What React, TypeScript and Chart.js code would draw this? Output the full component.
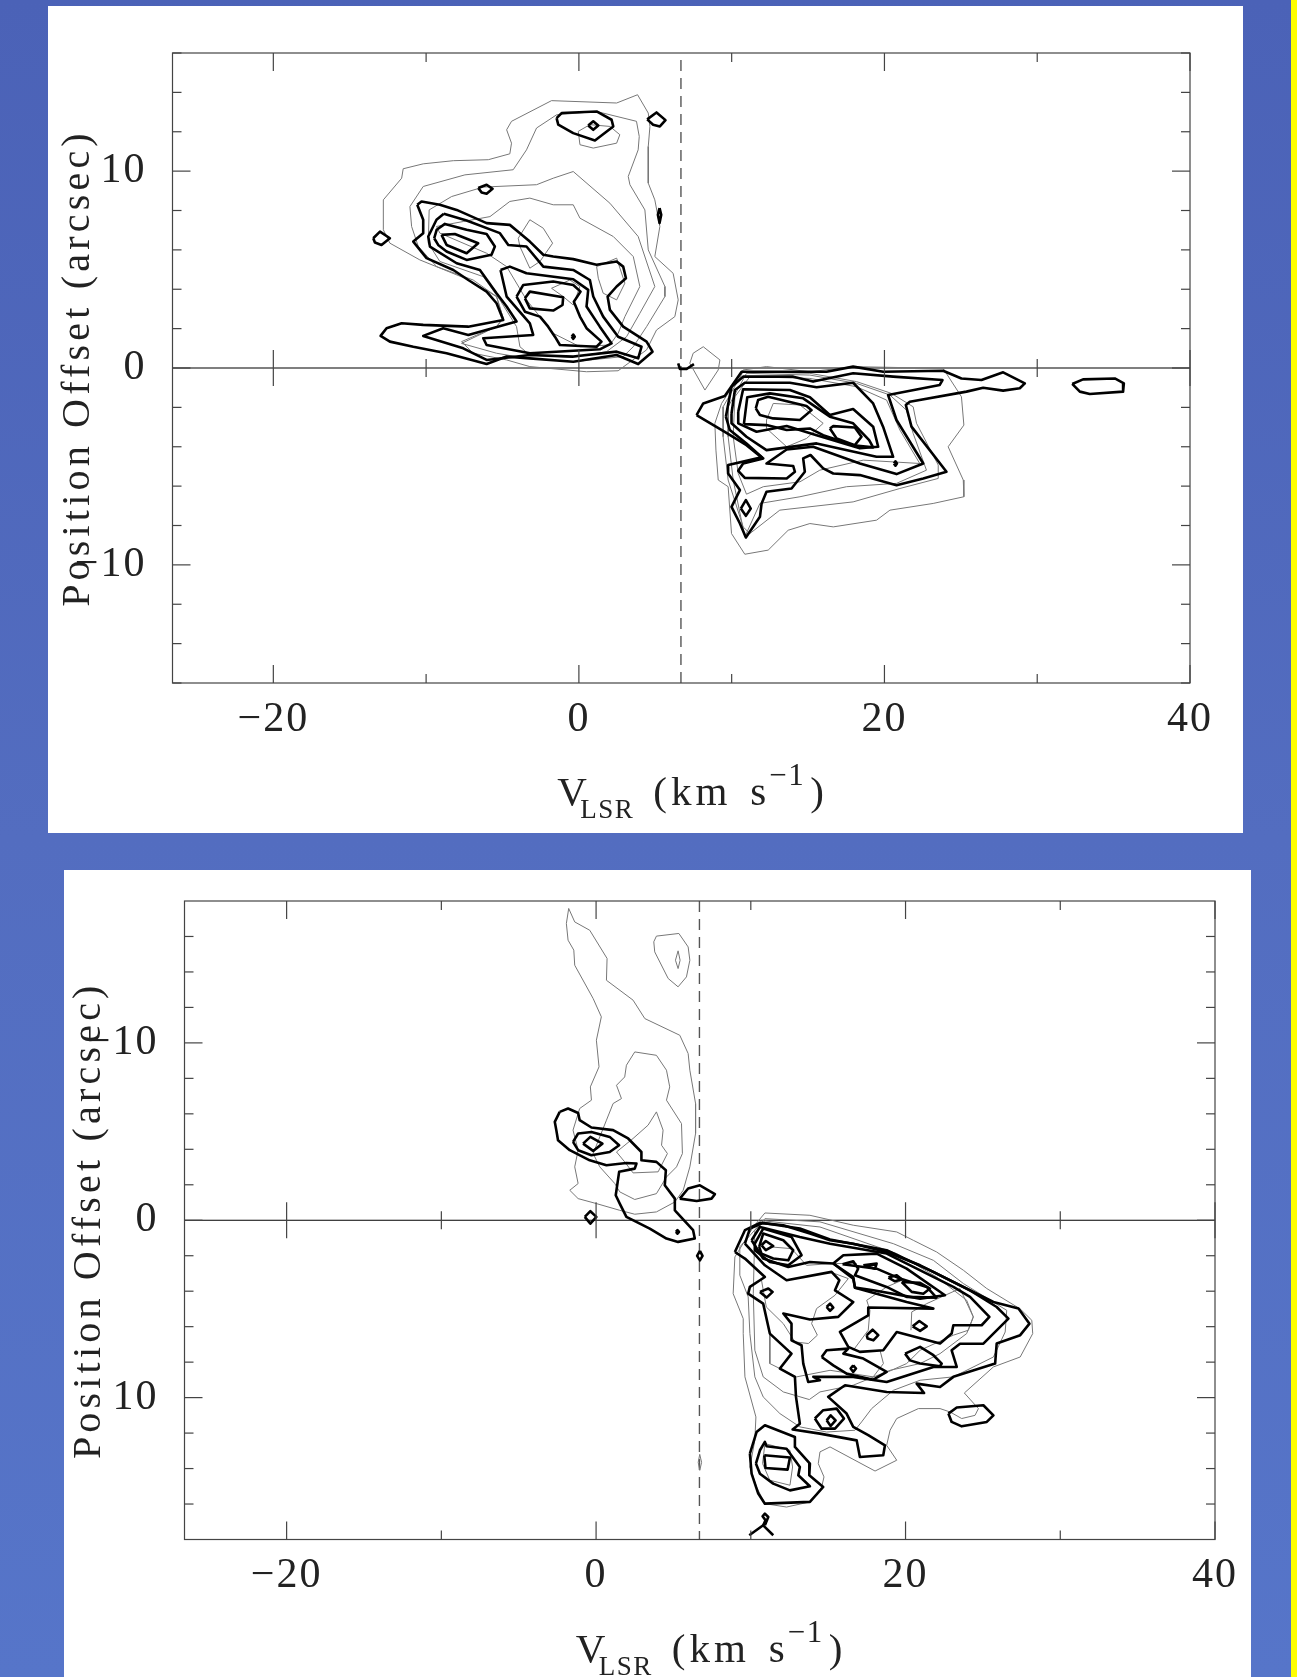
import React, { useEffect, useRef } from "react";
import { Chart, registerables } from "chart.js";

Chart.register(...registerables);

// ---------- axis values ----------
const xRange = [-26.6, 40];
const xMajorTicks = [-20, 0, 20, 40];
const xMinorTicks = [-10, 10, 30];
const yMajorTicks = [-10, 0, 10];
const yMinorTicks = [-16, -14, -12, -8, -6, -4, -2, 2, 4, 6, 8, 12, 14, 16];
const yRangeTop = [-16, 16];
const yRangeBottom = [-18, 18];
const systemicVelocityTop = 6.68;
const systemicVelocityBottom = 6.68;
const yAxisTitle = "Position Offset (arcsec)";
const xTitleV = "V";
const xTitleSub = "LSR";
const xTitleUnit = "(km";
const xTitleS = "s";
const xTitleSup = "\u22121";
const xTitleClose = ")";

// ---------- top panel: [velocity, offset, velocity, offset, ...] ----------
const topThin: number[][] = [
  [-12.8,7.02,-12.8,8.54,-11.6,9.64,-11.5,10.12,-10.19,10.37,-8.22,10.53,-5.93,10.58,-4.52,10.88,-4.41,11.42,-4.73,12.1,-4.41,12.53,-1.79,13.58,2.47,13.46,3.84,13.88,4.54,12.95,4.65,12.27,4.54,11.25,4.54,9.39,4.97,8.54,5.3,7.19,4.97,5.66,6.17,4.81,6.5,3.46,6.28,2.61,5.08,1.93,4.43,0.92,2.57,-0.14,0.5,-0.19,-3.21,0.07,-4.73,0.41,-6.92,0.75,-7.68,1.34,-5.39,2.1,-4.95,2.53,-5.39,3.63,-7.46,4.56,-10.41,5.49,-12.37,6.34],
  [-10.95,7.19,-11.06,8.2,-10.19,9.22,-7.46,9.81,-4.3,10.07,-3.43,11.08,-2.77,12.19,-1.46,12.86,1.16,13.03,3.77,12.53,3.95,11.76,3.88,11.08,3.23,9.73,3.34,9.31,4.32,8.03,4.54,6.0,5.63,4.14,5.63,3.63,4.43,2.1,3.56,1.08,2.9,0.58,-0.37,0.32,-3.43,0.49,-5.39,0.75,-7.68,1.25,-5.39,2.1,-4.95,2.53,-5.39,3.63,-6.92,4.47,-9.31,5.15,-10.51,6.17],
  [-9.8,8.03,-8.33,8.71,-6.26,9.19,-2.77,9.31,-1.68,9.64,-0.37,9.98,2.03,8.37,3.88,6.68,4.97,4.14,3.99,2.78,3.12,1.59,1.81,0.83,-0.37,0.54,-3.21,0.66,-3.86,1.08,-4.08,2.1,-5.17,3.46,-6.26,4.64,-9.1,5.41,-9.86,6.34],
  [-5.82,7.69,-4.52,8.46,-3.21,8.63,-1.68,8.29,-0.37,8.29,0.07,7.61,2.25,6.68,3.56,5.66,3.99,4.14,3.01,2.61,2.57,1.76,2.03,1.17,0.07,1.08,-1.68,1.76,-3.43,3.46,-4.73,5.15,-6.04,5.83,-9.1,6.85,-9.32,7.19,-7.57,7.44],
  [-3.21,7.53,-2.33,7.1,-1.72,6.34,-2.55,5.41,-3.21,5.07,-3.86,6.17,-3.97,6.59],
  [1.16,5.15,2.47,5.58,3.01,4.31,2.47,3.46,1.59,3.8,1.27,4.56],
  [-0.04,12.02,0.72,12.36,2.03,12.27,2.68,11.85,2.47,11.42,0.94,11.17,0.07,11.34],
  [-1.79,4.05,-0.59,4.47,0.07,4.14,-0.37,3.2,-1.03,3.63],
  [8.14,1.08,9.23,0.41,9.12,-0.1,8.25,-1.12,7.26,0.24,7.48,0.75],
  [10.86,-9.46,9.99,-8.41,9.77,-6.03,9.12,-5.69,8.97,-4.17,8.9,-2.81,9.34,-1.8,10.75,-0.1,12.28,0.07,15.12,-0.19,17.95,0.07,23.84,-0.02,25.04,-1.46,25.2,-2.9,24.17,-4.0,25.16,-5.69,25.2,-6.54,23.19,-6.88,20.36,-7.22,19.48,-7.73,16.65,-8.07,15.12,-7.9,13.7,-8.24,12.39,-9.25],
  [11.19,-8.41,13.15,-7.22,17.95,-6.8,21.01,-6.12,23.52,-5.61,23.52,-4.93,22.1,-2.81,21.88,-1.97,20.46,-1.29,18.17,-0.69,15.12,-0.27,10.75,-0.19,9.44,-1.97,9.44,-3.49,9.77,-5.69,10.75,-8.07],
  [10.86,-8.58,11.85,-6.88,14.47,-6.54,17.52,-6.03,20.79,-5.86,22.75,-5.19,21.88,-3.32,21.44,-2.14,20.35,-1.37,18.17,-0.78,15.12,-0.36,10.97,-0.27,9.77,-1.97,9.77,-3.49,10.1,-5.69],
  [10.97,-6.41,12.07,-6.03,14.47,-5.78,15.77,-5.19,18.61,-4.68,22.31,-4.85,21.01,-3.15,20.14,-1.63,18.17,-0.95,15.12,-0.53,11.19,-0.44,10.21,-1.46,10.1,-3.49,10.43,-5.36],
  [12.28,-2.64,12.72,-1.8,14.47,-1.88,15.99,-2.81,14.9,-3.58,13.6,-4.0,12.28,-3.07],
];
const topThick: number[][] = [
  [-10.58,8.29,-10.3,8.46,-9.1,8.29,-8.0,8.03,-6.04,7.36,-4.52,7.27,-3.86,6.85,-3.21,6.42,-2.33,5.75,-1.68,5.66,-0.37,5.53,1.16,5.24,2.47,5.41,2.9,5.15,3.08,4.56,2.47,4.14,1.88,3.63,2.03,2.95,2.9,2.1,4.43,1.34,4.82,0.83,3.88,0.2,2.47,0.66,-0.37,0.32,-3.21,0.49,-4.73,0.58,-6.04,0.2,-8.66,0.75,-10.84,1.08,-12.37,1.34,-12.98,1.63,-12.59,2.02,-11.6,2.27,-10.19,2.19,-7.24,2.1,-4.95,2.44,-5.39,3.29,-6.04,3.88,-7.24,4.47,-8.22,4.98,-9.97,5.58,-10.84,6.42,-10.19,6.85,-10.19,7.53],
  [-8.84,7.83,-7.35,7.49,-5.17,6.85,-4.62,6.25,-3.43,6.17,-2.33,5.15,-0.37,4.98,0.72,4.47,0.94,3.63,1.59,2.61,2.57,1.59,4.1,1.08,3.88,0.49,2.47,0.83,-0.37,0.58,-3.21,0.66,-6.04,0.41,-7.57,1.0,-10.19,1.63,-8.88,2.02,-7.24,1.68,-4.08,2.36,-4.73,3.12,-5.39,3.8,-6.48,4.98,-8.0,5.32,-9.75,6.17,-9.86,6.68,-9.32,7.53],
  [-5.13,4.98,-4.52,5.15,-3.43,4.81,-0.37,4.51,0.61,3.97,0.5,3.12,1.37,2.1,2.14,1.25,1.37,0.95,-3.21,0.75,-6.04,1.17,-6.26,1.51,-2.99,1.68,-3.21,2.27,-4.73,3.63],
  [-9.47,6.59,-9.31,7.02,-8.77,7.32,-7.35,7.02,-6.04,6.81,-5.5,6.17,-5.72,5.75,-7.35,5.49,-8.66,5.92,-9.21,6.25],
  [-8.99,6.76,-8.12,6.81,-6.59,6.34,-7.35,5.83,-8.66,6.25],
  [-4.08,3.63,-3.64,4.22,-1.68,4.39,-0.37,4.22,0.11,3.88,-0.33,3.37,0.07,2.61,0.5,2.02,1.48,1.34,1.16,1.08,-1.24,1.17,-1.57,1.59,-2.01,2.1,-2.55,2.61,-3.53,2.86],
  [-3.53,3.54,-3.21,3.88,-1.03,3.59,-1.07,3.2,-1.68,2.92,-3.21,3.03],
  [-0.47,1.59,-0.37,1.7,-0.27,1.59,-0.37,1.48],
  [-1.46,12.69,-1.13,12.95,1.16,13.03,2.14,12.61,2.25,12.27,1.05,11.56,-0.37,11.93,-1.35,12.36],
  [0.61,12.32,0.94,12.53,1.27,12.32,0.94,12.1],
  [4.47,12.63,5.08,12.98,5.67,12.59,5.3,12.27,4.86,12.36],
  [-6.59,9.14,-6.04,9.31,-5.65,9.1,-6.04,8.85,-6.37,8.92],
  [-13.46,6.59,-13.02,6.93,-12.37,6.59,-12.92,6.25,-13.35,6.37],
  [5.28,8.12,5.39,7.78,5.28,7.36,5.17,7.78],
  [7.7,-2.39,8.14,-1.8,9.55,-1.42,10.65,-0.19,16.21,-0.19,17.95,0.07,19.92,-0.19,23.84,-0.14,25.04,-0.53,26.35,-0.61,27.77,-0.22,29.19,-0.78,28.86,-1.03,27.77,-1.15,26.46,-1.0,25.37,-1.2,21.66,-1.71,21.4,-1.88,21.77,-2.98,24.06,-5.27,22.54,-5.61,20.79,-5.95,18.39,-5.44,16.65,-5.36,15.99,-5.1,15.16,-4.42,14.68,-4.59,14.79,-5.27,13.92,-6.12,12.28,-6.29,11.96,-6.88,11.85,-7.56,10.93,-8.61,10.54,-7.9,9.99,-7.05,10.54,-6.2,9.77,-5.36,9.77,-4.93,11.96,-4.54,10.97,-3.92,9.55,-3.24],
  [9.62,-2.47,9.99,-0.95,10.75,-0.44,14.03,-0.44,15.33,-0.69,17.95,-0.27,20.57,-0.44,23.8,-0.61,23.62,-0.86,20.24,-1.37,20.79,-2.64,22.54,-4.85,20.79,-5.39,18.39,-4.85,15.33,-4.0,13.6,-4.14,12.28,-4.85,14.03,-4.98,14.14,-5.27,13.6,-5.61,10.86,-5.58,10.43,-5.22,10.75,-4.85,12.07,-4.59,10.97,-3.83,9.88,-3.15],
  [9.99,-2.31,10.21,-1.12,10.86,-0.75,13.81,-0.75,15.56,-0.98,17.95,-0.75,19.26,-1.8,19.91,-2.98,20.57,-4.51,19.48,-4.51,15.56,-3.83,12.28,-4.17,10.97,-3.49,9.99,-2.81],
  [10.43,-2.22,10.75,-1.08,13.81,-1.12,15.12,-1.49,16.43,-2.39,17.95,-2.08,19.26,-2.98,19.59,-4.0,18.39,-4.08,15.56,-3.41,13.6,-2.95,11.63,-3.24,10.43,-2.81],
  [10.8,-2.85,11.02,-1.49,12.5,-1.29,14.68,-1.54,16.43,-2.47,17.95,-2.81,19.0,-3.66,19.26,-4.03,17.95,-3.92,15.99,-3.41,15.12,-3.07,13.6,-3.15,12.28,-2.9],
  [11.58,-2.05,11.73,-1.63,12.39,-1.46,14.9,-1.93,15.23,-2.14,14.47,-2.64,12.72,-2.56,11.85,-2.39],
  [16.43,-3.07,16.65,-2.95,18.06,-3.02,18.5,-3.49,18.06,-3.92,16.87,-3.58],
  [20.62,-4.85,20.72,-4.74,20.82,-4.85,20.72,-4.96],
  [10.6,-7.14,10.93,-6.71,11.25,-7.14,10.93,-7.51],
  [32.29,-0.81,33.0,-0.58,35.08,-0.53,35.67,-0.78,35.62,-1.2,33.44,-1.32,32.79,-1.2],
];
const topThickOpen: number[][] = [
  [6.5,0.24,6.61,-0.05,7.05,-0.05,7.53,0.2],
];

// ---------- bottom panel ----------
const bottomThin: number[][] = [
  [-1.77,-17.58,-1.38,-16.82,-0.41,-16.35,0.71,-14.76,0.67,-13.53,2.39,-12.41,3.15,-11.37,5.41,-10.43,5.95,-9.4,6.06,-8.46,6.43,-6.58,6.43,-4.89,6.06,-3.01,5.63,-1.69,5.09,-1.03,3.9,-0.47,2.5,-0.34,1.53,-0.56,0.02,-0.94,-1.16,-1.22,-1.7,-1.69,-1.16,-2.07,-1.38,-3.01,-1.16,-3.95,-1.49,-5.08,-1.06,-6.3,-0.3,-6.77,-0.37,-7.52,0.19,-8.65,0.02,-10.15,0.34,-11.47,-0.19,-12.5,-1.38,-14.38,-1.44,-15.23,-1.81,-15.79,-1.92,-16.73],
  [2.5,-9.49,3.9,-9.3,4.55,-8.46,4.76,-7.52,4.55,-6.77,5.52,-5.45,5.58,-3.76,5.2,-3.01,4.55,-2.44,3.9,-1.5,2.5,-1.17,1.53,-1.6,1.21,-2.07,0.24,-3.01,-0.19,-3.76,0.67,-5.64,1.1,-6.58,1.64,-6.86,1.32,-7.61,1.85,-8.08,1.96,-8.74],
  [3.9,-6.11,4.33,-5.08,4.23,-4.23,4.61,-3.76,4.01,-2.73,2.39,-2.67,1.85,-3.29,1.32,-3.85,2.39,-4.61,3.36,-5.36],
  [3.73,-15.7,3.9,-16.02,5.35,-16.17,5.95,-15.41,6.06,-14.66,5.84,-13.72,5.3,-13.16,4.66,-13.63,3.79,-15.13],
  [5.3,-15.19,5.43,-14.66,5.3,-14.19,5.13,-14.66],
  [6.6,13.65,6.7,13.2,6.82,13.65,6.7,14.1],
  [10.91,-0.41,13.82,-0.28,16.62,0.28,19.43,0.66,20.5,1.13,22.01,1.79,23.74,2.82,25.25,3.85,27.41,5.0,28.16,5.64,28.22,6.39,27.41,7.71,25.68,8.27,23.8,9.74,24.71,10.62,24.49,11.0,23.63,11.18,22.88,10.81,22.23,10.62,20.83,10.62,19.43,11.18,19.0,11.84,18.78,12.69,19.43,13.53,18.03,14.14,15.12,12.78,14.47,13.06,14.36,13.72,14.73,14.47,14.58,15.04,13.82,15.88,12.31,16.17,10.91,15.98,10.37,15.04,9.94,13.91,10.26,12.41,10.33,11.09,9.62,8.83,9.51,6.39,9.51,5.55,8.86,4.14,8.97,2.07,10.16,0.38],
  [10.91,-0.09,14.47,0.09,19.21,1.32,21.8,2.26,23.74,3.57,26.54,5.08,26.44,6.3,25.68,7.71,23.09,8.83,20.94,9.02,19.21,9.59,17.81,10.62,17.16,11.37,16.73,11.84,14.9,11.94,13.17,11.65,11.88,10.9,10.8,9.96,10.26,8.83,9.94,6.39,9.83,4.32,9.29,3.1,9.29,1.5],
  [10.26,0.56,10.16,4.14,10.26,7.33,10.8,8.83,12.1,9.68,13.78,10.11,14.47,9.68,16.62,9.3,19.0,8.46,20.94,8.08,22.23,7.52,23.95,6.39,24.38,5.45,23.95,4.51,22.01,3.2,19.43,1.88,14.47,0.38,10.91,0.04],
  [10.91,12.59,10.76,13.72,11.23,14.66,12.53,14.94,12.7,13.91,12.53,12.97],
];
const bottomThinOpen: number[][] = [
  [10.69,3.38,11.0,4.89,12.1,5.83,12.85,6.86,13.72,6.95,14.3,6.48,13.93,5.83,14.25,4.98,15.44,4.23,16.3,3.29,15.12,2.91],
  [16.62,7.33,17.59,6.2,17.7,5.08,17.49,4.51,18.78,3.76,19.86,3.35],
  [20.35,6.2,20.4,5.17,21.37,4.7,23.52,3.85,24.38,5.45,24.06,6.2,23.09,6.48,20.94,7.33,20.07,8.08,18.13,8.83],
  [11.23,6.39,11.23,8.08,12.96,8.83,15.12,8.46,17.91,8.83,18.57,8.08,18.35,7.33],
  [11.23,1.5,12.63,1.6,13.6,2.54,15.33,2.44,16.84,2.44],
];
const bottomThick: number[][] = [
  [-2.35,-6.11,-1.81,-6.3,-1.16,-6.05,-1.06,-5.64,-0.3,-5.23,1.1,-5.08,2.07,-4.61,2.93,-3.85,2.93,-3.38,3.9,-3.29,4.51,-2.82,4.44,-1.97,5.09,-1.22,5.09,-0.56,6.27,0.56,6.38,1.03,5.3,1.22,4.55,1.03,3.47,0.47,1.96,-0.19,1.53,-0.94,1.27,-1.41,1.49,-2.73,2.5,-2.91,2.61,-3.2,1.96,-3.23,0.67,-3.1,-0.41,-3.38,-1.7,-3.95,-2.46,-4.51,-2.57,-5.08,-2.67,-5.55],
  [-1.49,-4.42,-1.16,-4.89,-0.3,-4.98,0.88,-4.7,1.49,-4.23,0.88,-3.85,-0.3,-3.67,-1.16,-3.95],
  [-0.84,-4.32,-0.37,-4.7,0.41,-4.32,-0.19,-3.91],
  [-0.73,-0.19,-0.37,-0.51,0.02,-0.19,-0.37,0.19],
  [5.41,-1.22,5.95,-1.79,6.71,-1.97,7.68,-1.47,7.46,-1.22,6.5,-1.09],
  [5.16,0.66,5.26,0.56,5.36,0.66,5.26,0.76],
  [6.71,1.73,6.88,2.01,6.71,2.26,6.53,2.01],
  [8.97,1.79,9.62,0.56,10.59,0.15,12.1,0.28,13.82,0.75,15.12,1.13,16.62,1.32,18.78,1.79,20.94,2.54,23.09,3.48,25.68,4.61,27.3,4.98,28.01,5.83,27.41,6.48,25.89,6.95,25.79,8.08,23.09,8.83,22.23,9.4,20.72,9.21,21.2,9.74,18.78,9.68,16.09,9.3,15.0,9.96,16.19,10.9,16.62,11.65,17.59,12.12,18.67,12.69,18.56,13.25,17.05,13.35,16.84,12.41,14.47,12.03,12.7,11.8,13.17,11.47,12.92,9.96,12.85,8.83,11.88,8.36,12.63,7.52,11.23,6.39,10.8,4.7,9.83,4.14,9.94,3.76,10.91,3.2,9.62,2.16],
  [9.62,1.32,9.94,0.47,10.8,0.15,13.17,0.47,15.12,1.09,18.78,1.69,21.8,2.91,24.17,3.95,25.89,4.89,26.65,5.55,25.03,6.96,23.52,6.96,22.98,7.33,23.31,8.27,21.8,8.27,18.78,9.12,16.62,8.83,14.04,8.83,14.47,9.02,13.71,9.12,13.39,8.08,13.28,7.05,12.63,6.77,12.63,5.83,12.1,5.26,13.82,5.6,15.65,5.45,16.62,4.61,15.44,3.95,15.72,3.38,15.22,2.91,12.31,3.38,10.91,2.54],
  [10.05,1.13,10.59,0.38,13.17,0.94,15.12,1.32,18.78,1.88,23.09,3.76,24.17,4.32,25.42,5.45,24.92,5.92,23.09,5.92,22.98,6.39,22.23,6.95,19.43,6.3,18.56,7.33,17.05,7.42,16.3,7.14,15.76,6.3,17.59,5.36,17.59,4.92,21.8,4.98,20.07,4.61,18.13,4.14,16.73,3.8,16.62,3.2,15.33,2.44,13.82,2.35,12.42,2.63,10.8,2.16],
  [15.33,2.44,15.98,1.97,18.13,1.88,20.07,2.73,22.55,4.23,20.94,4.42,17.92,3.95,16.73,3.8,16.62,3.29],
  [15.93,2.48,16.62,2.31,16.94,2.73,16.73,3.1,18.78,3.76,20.07,4.32,22.0,4.36,21.37,3.76,19.64,3.29,18.13,2.73],
  [17.27,2.54,18.13,2.44,18.03,2.73],
  [18.89,3.23,19.43,3.1,19.75,3.33,19.32,3.44],
  [19.75,3.48,20.94,3.53,21.58,3.85,21.15,4.14,20.4,4.04],
  [10.54,1.5,10.8,0.75,12.1,1.13,12.74,1.69,12.42,2.26,11.45,2.16,10.69,1.88],
  [10.26,1.32,10.8,0.47,12.63,0.94,13.28,1.97,12.42,2.54,11.23,2.35,10.26,1.69],
  [10.69,1.41,10.97,1.17,11.45,1.45,10.97,1.69],
  [14.58,7.71,14.9,7.33,16.3,7.24,15.98,7.52,17.27,7.8,18.78,8.55,17.92,8.99,16.19,8.65,15.33,8.18],
  [19.97,7.52,20.94,7.14,21.8,7.61,22.34,8.08,22.23,8.23,20.94,8.08,20.29,7.9],
  [16.62,8.18,16.8,8.36,16.62,8.55,16.45,8.36],
  [14.9,4.89,15.12,4.7,15.33,4.92,15.12,5.11],
  [10.59,4.04,11.13,3.85,11.41,4.04,11.02,4.36],
  [17.49,6.48,17.87,6.17,18.24,6.48,17.92,6.77,17.55,6.67],
  [20.46,5.98,20.89,5.68,21.37,5.98,20.94,6.24],
  [14.14,11.18,14.68,10.71,15.55,10.62,16.02,11.18,15.44,11.75,14.58,11.75],
  [14.9,11.28,15.16,11.0,15.48,11.28,15.16,11.6],
  [22.77,10.9,23.31,10.56,25.03,10.43,25.68,11.0,25.25,11.37,23.63,11.62,22.98,11.37],
  [9.94,13.16,10.37,11.94,10.91,11.56,12.85,12.22,12.85,12.78,13.82,13.72,13.78,14.38,14.68,15.04,13.82,15.88,10.91,15.98,10.48,15.41,10.05,14.29],
  [10.33,13.72,10.59,12.97,10.91,12.5,11.02,12.74,12.31,12.88,13.17,13.91,13.07,14.38,13.82,15.0,12.53,15.23,11.45,14.85,10.59,14.29],
  [10.87,13.25,12.53,13.38,12.38,14.06,10.95,13.97],
];
const bottomThickOpen: number[][] = [
  [9.9,17.76,10.8,17.2,11.45,17.76],
  [10.8,17.2,10.95,16.92,10.76,16.69,10.91,16.54,11.13,16.73,10.91,17.2],
];

// ---------- helpers ----------
const FONT = "'Liberation Serif', serif";
const INK = "#222222";

const toPoints = (flat: number[], closed: boolean) => {
  const out: { x: number; y: number }[] = [];
  for (let i = 0; i + 1 < flat.length; i += 2) out.push({ x: flat[i], y: flat[i + 1] });
  if (closed && out.length) out.push({ ...out[0] });
  return out;
};

const lineDs = (data: { x: number; y: number }[], color: string, width: number, order: number, dash?: number[]) => ({
  data,
  showLine: true,
  fill: false,
  tension: 0,
  pointRadius: 0,
  borderColor: color,
  borderWidth: width,
  borderDash: dash ?? [],
  borderJoinStyle: "round",
  order,
});

const minus = (v: number) => (v < 0 ? "\u2212" + Math.abs(v) : String(v));

const framePlugin = {
  id: "pgFrame",
  beforeDraw(chart: any) {
    const ctx = chart.ctx;
    ctx.letterSpacing = "2px";
    const yScale = chart.scales.y;
    if (!yScale.__wrapped) {
      const orig = yScale.drawTitle.bind(yScale);
      yScale.drawTitle = (...a: any[]) => {
        ctx.letterSpacing = "4.2px";
        orig(...a);
        ctx.letterSpacing = "2px";
      };
      yScale.__wrapped = true;
    }
  },
  afterDatasetsDraw(chart: any) {
    const { ctx, chartArea: a, scales } = chart;
    const { x, y } = scales;
    ctx.save();
    ctx.strokeStyle = "#444";
    ctx.lineWidth = 1.2;
    ctx.strokeRect(a.left, a.top, a.right - a.left, a.bottom - a.top);
    const seg = (x1: number, y1: number, x2: number, y2: number) => {
      ctx.beginPath();
      ctx.moveTo(x1, y1);
      ctx.lineTo(x2, y2);
      ctx.stroke();
    };
    const zero = y.getPixelForValue(0);
    const xTick = (v: number, len: number) => {
      const p = x.getPixelForValue(v);
      seg(p, a.top, p, a.top + len);
      seg(p, a.bottom, p, a.bottom - len);
      seg(p, zero - len, p, zero + len);
    };
    const yTick = (v: number, len: number) => {
      const p = y.getPixelForValue(v);
      seg(a.left, p, a.left + len, p);
      seg(a.right, p, a.right - len, p);
    };
    xMajorTicks.forEach((v) => xTick(v, 18));
    xMinorTicks.forEach((v) => xTick(v, 9));
    yMajorTicks.forEach((v) => yTick(v, 18));
    yMinorTicks.forEach((v) => yTick(v, 9));
    ctx.restore();
  },
  afterDraw(chart: any) {
    const { ctx, chartArea: a } = chart;
    const c = (a.left + a.right) / 2;
    const base = a.bottom + 122;
    const put = (text: string, dx: number, dy: number, size: number) => {
      ctx.font = `${size}px ${FONT}`;
      ctx.fillText(text, c + dx, base + dy);
    };
    ctx.save();
    ctx.fillStyle = INK;
    ctx.textAlign = "left";
    ctx.textBaseline = "alphabetic";
    ctx.letterSpacing = "1.5px";
    put(xTitleV, -124, 0, 41);
    put(xTitleSub, -101, 13, 27);
    ctx.letterSpacing = "4px";
    put(xTitleUnit, -28, 0, 41);
    ctx.letterSpacing = "1.5px";
    put(xTitleS, 69, 0, 41);
    put(xTitleSup, 88, -20, 31);
    put(xTitleClose, 129, 0, 41);
    ctx.restore();
  },
};

type PanelProps = {
  left: number; top: number; width: number; height: number;
  plotLeft: number; plotTop: number; plotRight: number; plotBottom: number;
  titleGap: number;
  yRange: number[]; reverse: boolean; systemic: number;
  thin: number[][]; thinOpen: number[][]; thick: number[][]; thickOpen: number[][];
};

function Panel(p: PanelProps) {
  const ref = useRef<HTMLCanvasElement>(null);
  useEffect(() => {
    const datasets: any[] = [
      ...p.thick.map((c) => lineDs(toPoints(c, true), "#000", 2.6, 0)),
      ...p.thickOpen.map((c) => lineDs(toPoints(c, false), "#000", 2.6, 0)),
      ...p.thin.map((c) => lineDs(toPoints(c, true), "#777", 1, 1)),
      ...p.thinOpen.map((c) => lineDs(toPoints(c, false), "#777", 1, 1)),
      lineDs([{ x: xRange[0], y: 0 }, { x: xRange[1], y: 0 }], "#000", 1.1, 2),
      lineDs([{ x: p.systemic, y: p.yRange[0] }, { x: p.systemic, y: p.yRange[1] }], "#555", 1.4, 2, [11, 7]),
    ];
    const chart = new Chart(ref.current as HTMLCanvasElement, {
      type: "scatter",
      data: { datasets },
      plugins: [framePlugin],
      options: {
        animation: false,
        responsive: false,
        events: [],
        layout: { padding: { top: p.plotTop, right: p.width - p.plotRight, left: 0, bottom: 0 } },
        plugins: { legend: { display: false }, tooltip: { enabled: false }, title: { display: false } },
        scales: {
          x: {
            type: "linear",
            min: xRange[0],
            max: xRange[1],
            grid: { display: false },
            border: { display: false },
            afterFit: (s: any) => { s.height = p.height - p.plotBottom; s.paddingLeft = 0; s.paddingRight = 0; },
            ticks: {
              stepSize: 10,
              includeBounds: false,
              autoSkip: false,
              maxRotation: 0,
              padding: 3.5,
              color: INK,
              font: { family: FONT, size: 42 },
              callback: (v: any) => (xMajorTicks.includes(Number(v)) ? minus(Number(v)) : ""),
            },
          },
          y: {
            type: "linear",
            min: p.yRange[0],
            max: p.yRange[1],
            reverse: p.reverse,
            grid: { display: false },
            border: { display: false },
            afterFit: (s: any) => { s.width = p.plotLeft; s.paddingTop = 0; s.paddingBottom = 0; },
            title: {
              display: true,
              text: yAxisTitle,
              color: INK,
              font: { family: FONT, size: 40 },
              padding: { top: p.titleGap, bottom: 0 },
            },
            ticks: {
              stepSize: 2,
              includeBounds: false,
              autoSkip: false,
              padding: 18,
              color: INK,
              font: { family: FONT, size: 42 },
              callback: (v: any) => (yMajorTicks.includes(Number(v)) ? minus(Number(v)) : ""),
            },
          },
        },
      } as any,
    });
    return () => chart.destroy();
  }, []);
  return (
    <canvas
      ref={ref}
      width={p.width}
      height={p.height}
      style={{ position: "absolute", left: p.left, top: p.top, width: p.width, height: p.height, background: "#fff", display: "block" }}
    />
  );
}

export default function App() {
  return (
    <div
      style={{
        position: "absolute",
        left: 0,
        top: 0,
        width: 1297,
        height: 1677,
        overflow: "hidden",
        background: "linear-gradient(180deg, #4b62b7 0%, #536dc0 50%, #5675c9 100%)",
      }}
    >
      <div style={{ position: "absolute", left: 1291, top: 0, width: 6, height: 1677, background: "#ffff00" }} />
      <Panel
        left={48} top={6} width={1195} height={827}
        plotLeft={124.5} plotTop={47} plotRight={1142} plotBottom={677}
        titleGap={6}
        yRange={yRangeTop} reverse={false} systemic={systemicVelocityTop}
        thin={topThin} thinOpen={[]} thick={topThick} thickOpen={topThickOpen}
      />
      <Panel
        left={64} top={870} width={1187} height={807}
        plotLeft={120.5} plotTop={31} plotRight={1151} plotBottom={669.5}
        titleGap={1}
        yRange={yRangeBottom} reverse={true} systemic={systemicVelocityBottom}
        thin={bottomThin} thinOpen={bottomThinOpen} thick={bottomThick} thickOpen={bottomThickOpen}
      />
    </div>
  );
}
